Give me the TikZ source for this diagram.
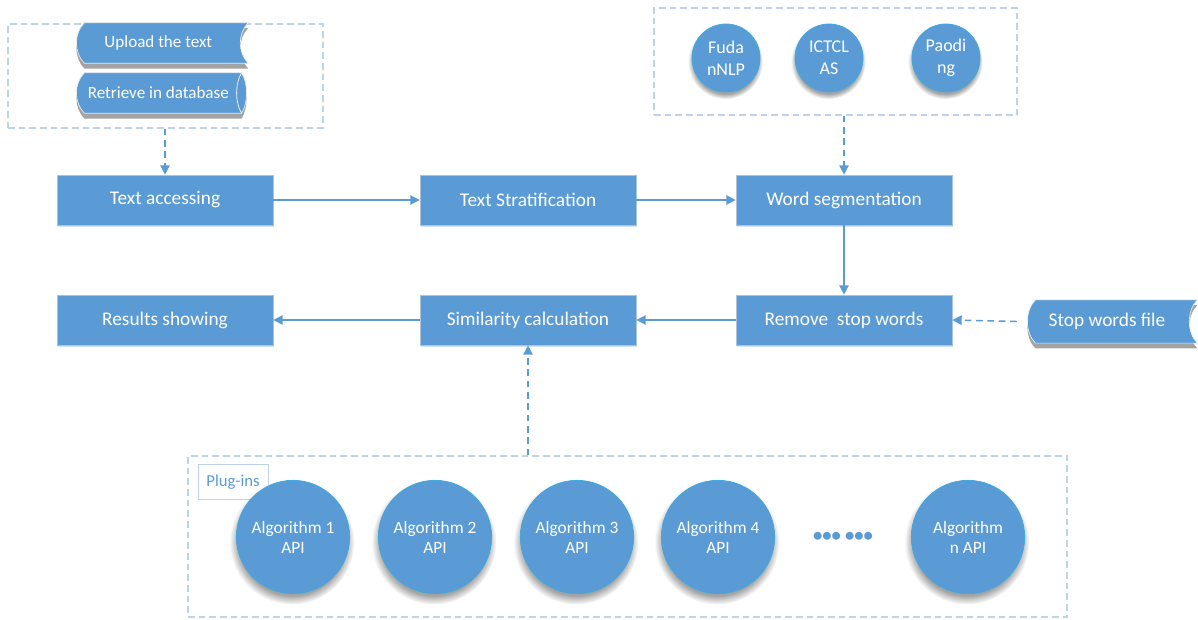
\documentclass[tikz,border=0pt]{standalone}
\usepackage{fontspec}
\setmainfont{Carlito}
\usetikzlibrary{arrows.meta,shadows}
\definecolor{mblue}{HTML}{5B9BD5}
\definecolor{cedge}{HTML}{3FA9E0}
\definecolor{dbox}{HTML}{BDD3EC}
\definecolor{shgray}{HTML}{A3A3A3}
\definecolor{pedge}{HTML}{A9C3DE}
\tikzset{
  proc/.style={rectangle, fill=mblue, draw=pedge, line width=0.5pt, text=white,
    minimum width=162pt, minimum height=37.5pt, inner sep=0pt, font=\fontsize{14.5}{17}\selectfont,
    drop shadow={shadow xshift=0.8pt, shadow yshift=-1.5pt, fill=mblue!25, opacity=1}},
  circsm/.style={circle, fill=mblue, draw=cedge, line width=0.6pt, text=white, align=center,
    minimum size=51pt, inner sep=0pt, font=\fontsize{13.5}{16.5}\selectfont,
    circular drop shadow={shadow xshift=-0.5pt, shadow yshift=-2.5pt, fill=shgray, opacity=1}},
  circlg/.style={circle, fill=mblue, draw=cedge, line width=0.6pt, text=white, align=center,
    minimum size=85pt, inner sep=0pt, font=\fontsize{13}{15}\selectfont,
    circular drop shadow={shadow xshift=-0.8pt, shadow yshift=-3.5pt, fill=shgray, opacity=1}},
  stlabel/.style={text=white, inner sep=0pt, font=\fontsize{12.8}{15}\selectfont},
  container/.style={draw=dbox, line width=1.1pt, dash pattern=on 5pt off 3pt, inner sep=0pt},
  conn/.style={draw=mblue, line width=1.1pt, -{Triangle[length=7pt,width=7pt]}},
  dconn/.style={conn, dash pattern=on 5pt off 3.5pt},
}
\newcommand\stpath[1]{%
  ([xshift=8pt]#1.north west) -- (#1.north east)
  .. controls ([xshift=-8pt,yshift=-8pt]#1.north east) and ([xshift=-8pt,yshift=8pt]#1.south east) .. (#1.south east)
  -- ([xshift=8pt]#1.south west)
  .. controls ([yshift=8pt]#1.south west) and ([yshift=-8pt]#1.north west) .. ([xshift=8pt]#1.north west) -- cycle}
\newcommand\stpathcyl[1]{%
  ([xshift=8pt]#1.north west) -- ([xshift=-5pt]#1.north east)
  .. controls ([yshift=-8pt]#1.north east) and ([yshift=8pt]#1.south east) .. ([xshift=-5pt]#1.south east)
  -- ([xshift=8pt]#1.south west)
  .. controls ([yshift=8pt]#1.south west) and ([yshift=-8pt]#1.north west) .. ([xshift=8pt]#1.north west) -- cycle}
\newcommand\stshape[1]{%
  \begin{scope}[transform canvas={yshift=-4pt}]\fill[shgray] \stpath{#1};\end{scope}
  \fill[mblue] \stpath{#1};
  \draw[white!85!gray, line width=0.5pt] \stpath{#1};}
\newcommand\stshapecyl[1]{%
  \begin{scope}[transform canvas={yshift=-4pt}]\fill[shgray] \stpathcyl{#1};\end{scope}
  \fill[mblue] \stpathcyl{#1};
  \draw[white!85!gray, line width=0.5pt] \stpathcyl{#1};
  \draw[white!85!gray, line width=0.6pt] ([xshift=-5pt]#1.north east)
    .. controls ([xshift=-10pt,yshift=-8pt]#1.north east) and ([xshift=-10pt,yshift=8pt]#1.south east) .. ([xshift=-5pt]#1.south east);}
\begin{document}
\begin{tikzpicture}[x=0.75pt,y=-0.75pt, font=\fontsize{12}{15}\selectfont]
\useasboundingbox (0,0) rectangle (1198,620);

% containers
\node (ctl) [container, minimum width=236.25pt, minimum height=78pt] at (165.5,76) {};
\node (ctr) [container, minimum width=272.25pt, minimum height=80.25pt] at (835.5,61.5) {};
\node (cbt) [container, minimum width=659.25pt, minimum height=120.75pt] at (627.5,536.5) {};

% stored data shapes
\node (upl) [stlabel, minimum width=130.5pt, minimum height=30pt] at (161,43) {};
\stshape{upl}
\node [stlabel] at ([xshift=-2pt]upl.center) {Upload the text};
\node (ret) [stlabel, minimum width=130.5pt, minimum height=30pt] at (161,93) {};
\stshapecyl{ret}
\node [stlabel] at ([xshift=-2pt]ret.center) {Retrieve in database};
\node (swf) [stlabel, minimum width=129pt, minimum height=32pt] at (1111,321.5) {};
\stshape{swf}
\node [stlabel, font=\fontsize{14.5}{17}\selectfont] at ([xshift=-3pt]swf.center) {Stop words file};

% process boxes
\node (tac) [proc] at (165,200) {Text accessing};
\node (tst) [proc] at (528,200) {Text Stratification};
\node (wsg) [proc] at (844,200) {Word segmentation};
\node (rsw) [proc] at (844,320) {Remove~ stop words};
\node (sim) [proc] at (528,320) {Similarity calculation};
\node (res) [proc] at (165,320) {Results showing};

% segmenters
\node (fud) [circsm] at (726,58) {Fuda\\nNLP};
\node (ict) [circsm] at (829,58) {ICTCL\\AS};
\node (pao) [circsm] at (946,58) {Paodi\\ng};

% plug-ins
\node (plg) [draw=dbox, line width=0.5pt, fill=white, text=mblue, minimum width=52.5pt, minimum height=26pt, inner sep=0pt, font=\fontsize{12.5}{15}\selectfont] at (233,482) {Plug-ins};
\node (a1) [circlg] at (293,537) {Algorithm 1\\API};
\node (a2) [circlg] at (435,537) {Algorithm 2\\API};
\node (a3) [circlg] at (577,537) {Algorithm 3\\API};
\node (a4) [circlg] at (718,537) {Algorithm 4\\API};
\node (dts) [text=mblue, font=\fontsize{14}{14}\selectfont\bfseries] at (843,537) {••• •••};
\node (an) [circlg] at (968,537) {Algorithm\\n API};

% connectors
\draw[dconn] (tac.north |- ctl.south) -- (tac.north);
\draw[dconn] (wsg.north |- ctr.south) -- (wsg.north);
\draw[conn] (tac) -- (tst);
\draw[conn] (tst) -- (wsg);
\draw[conn] (wsg) -- (rsw);
\draw[dconn] ([xshift=-6pt]swf.west) -- (rsw.east);
\draw[conn] (rsw) -- (sim);
\draw[conn] (sim) -- (res);
\draw[dconn] (sim.south |- cbt.north) -- (sim.south);
\end{tikzpicture}
\end{document}
